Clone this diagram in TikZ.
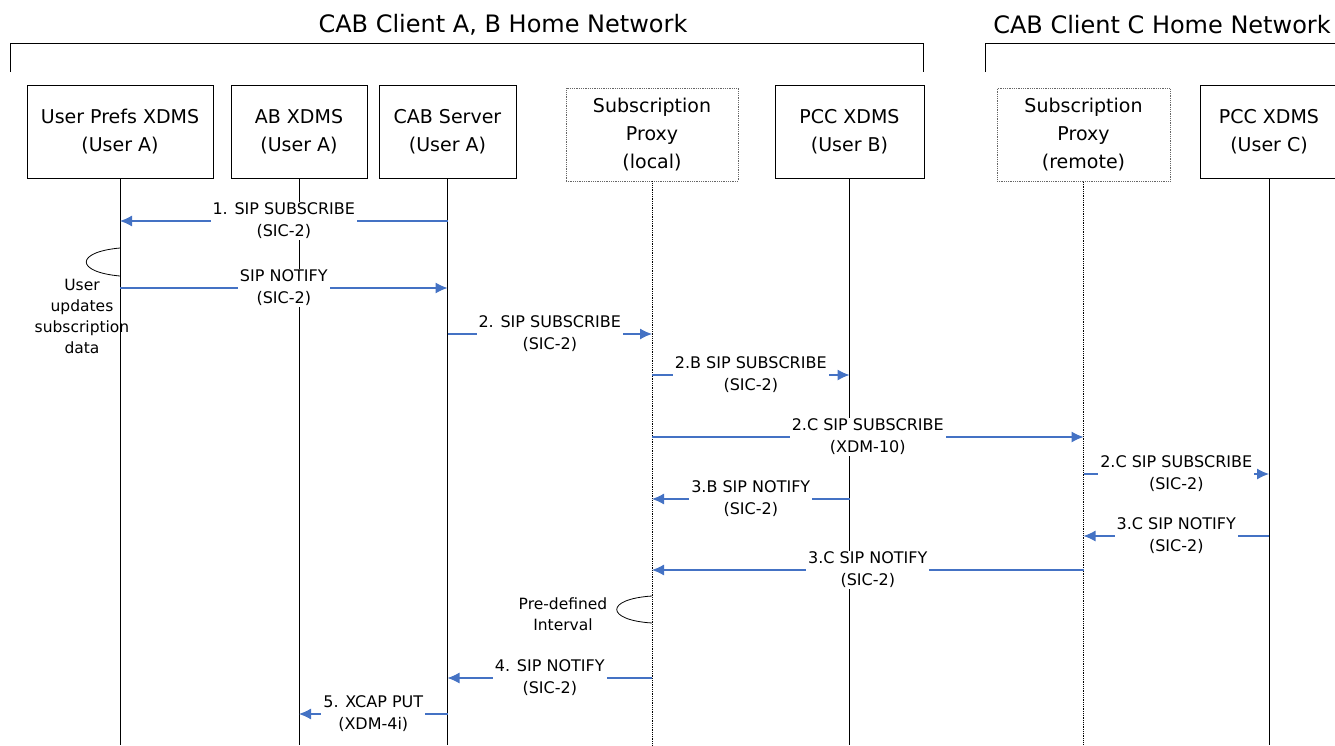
\documentclass[tikz,border=0pt]{standalone}
\usepackage{fontspec}
\setmainfont{DejaVu Sans}
\usetikzlibrary{arrows.meta}
\definecolor{msgblue}{HTML}{4472C4}
\tikzset{
  nettitle/.style={font=\fontsize{24}{28}\selectfont},
  entity/.style={draw, line width=0.8pt, minimum height=93pt, align=center, inner sep=0pt,
    font=\fontsize{19}{28}\selectfont},
  proxybox/.style={entity, draw=black!60, densely dotted},
  life/.style={line width=0.8pt},
  proxylife/.style={line width=0.8pt, densely dotted},
  msg/.style={draw=msgblue, line width=1.1pt, -{Latex[length=12pt,width=11pt]}},
  msglabel/.style={fill=white, align=center, inner xsep=2pt, inner ysep=1pt,
    font=\fontsize{16}{22}\selectfont},
  remark/.style={align=center, font=\fontsize{15.5}{21}\selectfont},
}
\begin{document}
\begin{tikzpicture}[x=1pt,y=-1pt]
  \useasboundingbox (0,0) rectangle (1335,745);
  % home networks
  \node[nettitle] (homeAB) at (503,25) {CAB Client A, B Home Network};
  \node[nettitle] (homeC) at (1162,25) {CAB Client C Home Network};
  \draw[line width=0.8pt] (10,72) -- (10,43) -- (923,43) -- (923,72);
  \draw[line width=0.8pt] (985,72) -- (985,43) -- (1340,43);
  % entities
  \node[entity, minimum width=186pt] (prefs) at (120,131.5) {User Prefs XDMS\\(User A)};
  \node[entity, minimum width=136pt] (abx) at (299,131.5) {AB XDMS\\(User A)};
  \node[entity, minimum width=137pt] (cab) at (447.5,131.5) {CAB Server\\(User A)};
  \node[proxybox, minimum width=172pt] (spl) at (652,134.5) {Subscription\\Proxy\\(local)};
  \node[entity, minimum width=149pt] (pccb) at (849.5,131.5) {PCC XDMS\\(User B)};
  \node[proxybox, minimum width=173pt] (spr) at (1083.5,135) {Subscription\\Proxy\\(remote)};
  \node[entity, minimum width=138pt] (pccc) at (1269,131.5) {PCC XDMS\\(User C)};
  % lifelines
  \coordinate (bottom) at (0,745);
  \foreach \e in {prefs,abx,cab,pccb,pccc}
    \draw[life] (\e.south) -- (\e.south |- bottom);
  \foreach \e in {spl,spr}
    \draw[proxylife] (\e.south) -- (\e.south |- bottom);
  % user updates loop
  \draw[line width=0.8pt] (prefs |- 0,248) .. controls (75,252) and (75,272) .. (prefs |- 0,276);
  \node[remark] (upd) at (82,316) {User\\updates\\subscription\\data};
  % messages
  \draw[msg] (cab |- 0,221) -- node[msglabel] {1. SIP SUBSCRIBE\\(SIC-2)} (prefs |- 0,221);
  \draw[msg] (prefs |- 0,288) -- node[msglabel] {SIP NOTIFY\\(SIC-2)} (cab |- 0,288);
  \draw[msg] (cab |- 0,334) -- node[msglabel] {2. SIP SUBSCRIBE\\(SIC-2)} (spl |- 0,334);
  \draw[msg] (spl |- 0,375) -- node[msglabel] {2.B SIP SUBSCRIBE\\(SIC-2)} (pccb |- 0,375);
  \draw[msg] (spl |- 0,437) -- node[msglabel] {2.C SIP SUBSCRIBE\\(XDM-10)} (spr |- 0,437);
  \draw[msg] (spr |- 0,474) -- node[msglabel] {2.C SIP SUBSCRIBE\\(SIC-2)} (pccc |- 0,474);
  \draw[msg] (pccb |- 0,499) -- node[msglabel] {3.B SIP NOTIFY\\(SIC-2)} (spl |- 0,499);
  \draw[msg] (pccc |- 0,536) -- node[msglabel] {3.C SIP NOTIFY\\(SIC-2)} (spr |- 0,536);
  \draw[msg] (spr |- 0,570) -- node[msglabel] {3.C SIP NOTIFY\\(SIC-2)} (spl |- 0,570);
  % interval loop
  \draw[line width=0.8pt] (spl |- 0,596) .. controls (605,599) and (605,620) .. (spl |- 0,623);
  \node[remark] (intv) at (563,614) {Pre-defined\\Interval};
  \draw[msg] (spl |- 0,678) -- node[msglabel] {4. SIP NOTIFY\\(SIC-2)} (cab |- 0,678);
  \draw[msg] (cab |- 0,714) -- node[msglabel] {5. XCAP PUT\\(XDM-4i)} (abx |- 0,714);
\end{tikzpicture}
\end{document}
